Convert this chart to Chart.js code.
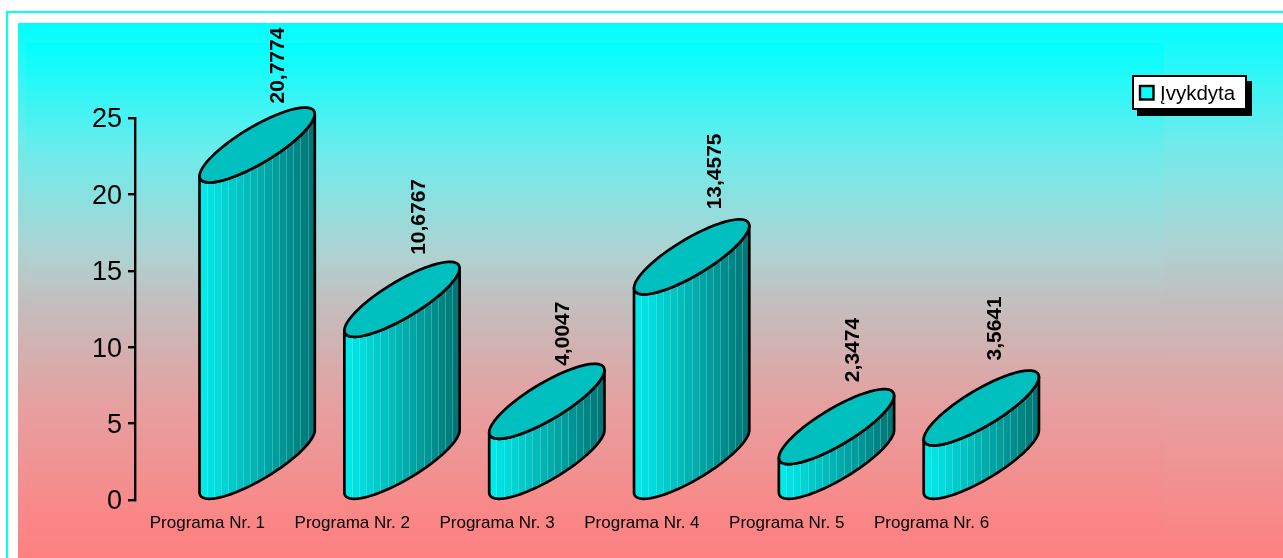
<!DOCTYPE html>
<html><head><meta charset="utf-8">
<style>html,body{margin:0;padding:0;background:#fff}canvas{display:block}</style>
<script src="https://cdn.jsdelivr.net/npm/chart.js@4/dist/chart.umd.min.js"></script>
</head><body><canvas id="c" width="1283" height="558"></canvas>
<script>
const categories = ["Programa Nr. 1","Programa Nr. 2","Programa Nr. 3","Programa Nr. 4","Programa Nr. 5","Programa Nr. 6"];
const seriesName = "Įvykdyta";
const seriesValues = [20.7774,10.6767,4.0047,13.4575,2.3474,3.5641];
const valueTexts = ["20,7774","10,6767","4,0047","13,4575","2,3474","3,5641"];
const labelNudgeX = [4,0,-1,7,0,-3];
const labelNudgeY = [1,-2,7,-5,-2,-5];
const FONT = '"Liberation Sans", Arial, sans-serif';

function vGrad(ctx,y0,y1){
  const g = ctx.createLinearGradient(0,y0,0,y1);
  g.addColorStop(0,'#00FFFF');
  g.addColorStop(0.22,'#6EEBEB');
  g.addColorStop(0.42,'#AFD2D2');
  g.addColorStop(0.52,'#C3BEBE');
  g.addColorStop(0.72,'#E6A0A0');
  g.addColorStop(1,'#FF8080');
  return g;
}
const backdrop = { id:'backdrop', beforeDraw(chart){
  const c = chart.ctx; c.save();
  c.fillStyle='#fff'; c.fillRect(0,0,1283,558);
  c.fillStyle='#00FFFF'; c.fillRect(6,11,1277,2); c.fillRect(6,11,2,547);
  c.fillStyle=vGrad(c,23,558); c.fillRect(18,23,1265,535);
  c.fillStyle=vGrad(c,43,545); c.fillRect(26,43,1138,492);
  c.restore();
}};

const PHI = 146*Math.PI/180;
function ellipsePath(c,cx,cy,rx,ry,from,to){
  for(let i=0;i<=60;i++){
    const t = from+(to-from)*i/60;
    const x = cx+rx*Math.cos(t), y = cy+ry*Math.cos(t+PHI);
    if(i===0 && from===0 && to===2*Math.PI) c.moveTo(x,y); else c.lineTo(x,y);
  }
}
const cylinders = { id:'cylinders', afterDatasetsDraw(chart){
  const c = chart.ctx, meta = chart.getDatasetMeta(0);
  const ry = 37.5, strips = 16, edge = ry*Math.abs(Math.cos(PHI));
  meta.data.forEach((bar,i)=>{
    const rx = bar.width/2-0.3, cx = bar.x+bar.width/2-8.2, top = bar.y-ry, bot = bar.base-ry;
    c.save();
    c.lineJoin='round';
    const side = ()=>{
      c.beginPath();
      c.moveTo(cx-rx,top+edge);
      ellipsePath(c,cx,bot,rx,ry,Math.PI,2*Math.PI);
      c.lineTo(cx+rx,top-edge);
      ellipsePath(c,cx,top,rx,ry,2*Math.PI,Math.PI);
      c.closePath();
    };
    c.save(); side(); c.clip();
    const w = 2*rx/strips;
    for(let s=0;s<strips;s++){
      const f = s/(strips-1);
      const g = Math.round(234-f*116);
      c.fillStyle=`rgb(0,${g},${g})`;
      c.fillRect(cx-rx+s*w,top-ry-2,w+1,bot-top+2*ry+4);
    }
    c.strokeStyle='rgba(190,235,235,0.3)'; c.lineWidth=1;
    for(let s=1;s<strips;s++){
      const x = Math.round(cx-rx+s*w)+0.5;
      c.beginPath(); c.moveTo(x,top-ry); c.lineTo(x,bot+ry); c.stroke();
    }
    c.restore();
    c.strokeStyle='#000'; c.lineWidth=2.7;
    side(); c.stroke();
    c.beginPath(); ellipsePath(c,cx,top,rx,ry,0,2*Math.PI); c.closePath();
    c.fillStyle='#00BFBF'; c.fill(); c.stroke();
    c.translate(cx+17+labelNudgeX[i], bar.y-80+labelNudgeY[i]);
    c.rotate(-Math.PI/2);
    c.fillStyle='#000'; c.font='bold 21px '+FONT;
    c.textAlign='left'; c.textBaseline='middle';
    c.fillText(valueTexts[i],0,0);
    c.restore();
  });
  c.save();
  c.fillStyle='#000'; c.fillRect(1137,81,115,35);
  c.fillStyle='#fff'; c.fillRect(1133,76,113,33);
  c.strokeStyle='#000'; c.lineWidth=2; c.strokeRect(1133,76,113,33);
  c.lineWidth=2.4;
  c.fillStyle='#00FFFF'; c.fillRect(1140,86,13.5,13.5); c.strokeRect(1140,86,13.5,13.5);
  c.fillStyle='#000'; c.font='20.5px '+FONT; c.textAlign='left'; c.textBaseline='middle';
  c.fillText(chart.data.datasets[0].label,1160,94);
  c.restore();
}};

new Chart(document.getElementById('c'),{
  type:'bar',
  data:{labels:categories,datasets:[{label:seriesName,data:seriesValues,
    backgroundColor:'rgba(0,0,0,0)',borderWidth:0,
    categoryPercentage:1,barPercentage:0.8}]},
  options:{
    responsive:false,animation:false,devicePixelRatio:1,
    layout:{padding:{top:118,right:279,left:0,bottom:0}},
    plugins:{legend:{display:false},tooltip:{enabled:false},title:{display:false}},
    scales:{
      x:{grid:{display:false},border:{display:false},
        ticks:{color:'#000',font:{family:FONT,size:17},padding:5,maxRotation:0,autoSkip:false},
        afterFit(s){s.height=58;}},
      y:{min:0,max:25,
        grid:{drawOnChartArea:false,drawTicks:true,tickLength:7,color:'#000',lineWidth:2.4},
        border:{display:true,color:'#000',width:2.4},
        ticks:{stepSize:5,color:'#000',font:{family:FONT,size:27},padding:6,labelOffset:2},
        afterFit(s){s.width=135;}}
    }
  },
  plugins:[backdrop,cylinders]
});
</script></body></html>
